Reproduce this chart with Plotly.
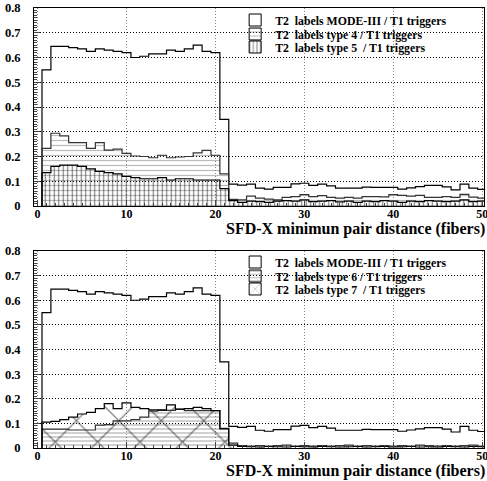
import numpy as np
import plotly.graph_objects as go
from plotly.subplots import make_subplots

# ---- data (bins = min pair distance in fibers, 1..50) ----
distance = list(range(1, 51))

mode3 = [0.55, 0.645, 0.645, 0.64, 0.635, 0.625, 0.635, 0.63, 0.625, 0.62,
         0.60, 0.605, 0.615, 0.615, 0.63, 0.625, 0.635, 0.65, 0.625, 0.62,
         0.35, 0.088, 0.084, 0.088, 0.072, 0.068, 0.075, 0.075, 0.089, 0.092,
         0.083, 0.088, 0.081, 0.072, 0.072, 0.072, 0.076, 0.075, 0.075, 0.075,
         0.068, 0.073, 0.078, 0.083, 0.083, 0.077, 0.065, 0.088, 0.072, 0.067]

type4 = [0.233, 0.294, 0.283, 0.256, 0.256, 0.233, 0.256, 0.226, 0.23, 0.213,
         0.202, 0.20, 0.195, 0.205, 0.195, 0.198, 0.20, 0.215, 0.225, 0.205,
         0.13, 0.027, 0.025, 0.04, 0.032, 0.028, 0.025, 0.035, 0.038, 0.046,
         0.038, 0.042, 0.035, 0.032, 0.035, 0.032, 0.038, 0.038, 0.037, 0.046,
         0.043, 0.04, 0.043, 0.035, 0.035, 0.038, 0.035, 0.047, 0.036, 0.032]

type5 = [0.135, 0.16, 0.165, 0.165, 0.16, 0.15, 0.14, 0.135, 0.13, 0.12,
         0.115, 0.11, 0.11, 0.115, 0.105, 0.11, 0.11, 0.105, 0.105, 0.105,
         0.07, 0.022, 0.015, 0.02, 0.018, 0.015, 0.02, 0.022, 0.02, 0.025,
         0.018, 0.02, 0.022, 0.017, 0.02, 0.015, 0.02, 0.018, 0.022, 0.02,
         0.015, 0.02, 0.018, 0.022, 0.02, 0.018, 0.02, 0.025, 0.018, 0.02]

type6 = [0.077, 0.077, 0.077, 0.073, 0.073, 0.073, 0.093, 0.095, 0.11, 0.11,
         0.115, 0.125, 0.15, 0.153, 0.153, 0.157, 0.152, 0.152, 0.152, 0.152,
         0.08, 0.02, 0.01, 0.008, 0.01, 0.008, 0.01, 0.012, 0.008, 0.01,
         0.008, 0.01, 0.008, 0.01, 0.012, 0.008, 0.01, 0.008, 0.01, 0.008,
         0.01, 0.008, 0.012, 0.01, 0.008, 0.01, 0.008, 0.01, 0.012, 0.008]

type7 = [0.105, 0.108, 0.115, 0.125, 0.138, 0.145, 0.16, 0.18, 0.16, 0.183,
         0.165, 0.16, 0.155, 0.155, 0.175, 0.158, 0.16, 0.165, 0.16, 0.152,
         0.078, 0.012, 0.006, 0.005, 0.004, 0.006, 0.005, 0.004, 0.006, 0.005,
         0.004, 0.006, 0.005, 0.004, 0.005, 0.006, 0.004, 0.005, 0.006, 0.004,
         0.005, 0.006, 0.004, 0.005, 0.004, 0.006, 0.005, 0.004, 0.006, 0.005]

x_ticks = [0, 10, 20, 30, 40, 50]
x_ticklabels = ["0", "10", "20", "30", "40", "50"]
y_ticks = [0, 0.1, 0.2, 0.3, 0.4, 0.5, 0.6, 0.7, 0.8]
y_ticklabels = ["0", "0.1", "0.2", "0.3", "0.4", "0.5", "0.6", "0.7", "0.8"]
x_title = "SFD-X minimun pair distance (fibers)"

FONT = "Liberation Serif"

top_series = [
    ("T2  labels MODE-III / T1 triggers", mode3, None, "black"),
    ("T2  labels type 4 / T1 triggers", type4, dict(shape="-", size=5, solidity=0.25, fgcolor="#777777"), "#333333"),
    ("T2  labels type 5  / T1 triggers", type5, dict(shape="|", size=4.5, solidity=0.25, fgcolor="black"), "black"),
]
bot_series = [
    ("T2  labels MODE-III / T1 triggers", mode3, None, "black"),
    ("T2  labels type 6 / T1 triggers", type6, dict(shape="-", size=4, solidity=0.25, fgcolor="#444444"), "#333333"),
    ("T2  labels type 7  / T1 triggers", type7, dict(shape="x", size=30, solidity=0.08, fgcolor="black"), "black"),
]

fig = make_subplots(rows=2, cols=1, vertical_spacing=0.1)

edges = np.arange(len(distance) + 1) + distance[0] - 0.5

# legend rows (paper y of each row centre)
legend_rows_top = [0.9727, 0.9409, 0.9114]
legend_rows_bot = [0.4227, 0.3909, 0.3614]
legend_font = dict(family="Liberation Serif", size=11.8, color="black", weight="bold")

legend_layout = {}
legend_counter = [0]


def add_panel(series, row, rows_y):
    for (name, vals, pat, lc), ly in zip(series, rows_y):
        vals = np.asarray(vals)
        if pat is not None:
            fig.add_trace(go.Bar(x=distance, y=vals, width=1.0,
                                 marker=dict(color="rgba(0,0,0,0)", line=dict(width=0), pattern=pat),
                                 showlegend=False, hoverinfo="skip"), row=row, col=1)
        xs = np.r_[edges[0], edges]
        ys = np.r_[0, vals, vals[-1]]
        fig.add_trace(go.Scatter(x=xs, y=ys, mode="lines", line=dict(color=lc, width=1.2, shape="hv"),
                                 showlegend=False, hoverinfo="skip"), row=row, col=1)
        # legend entry, one legend per row so rows can be spaced tightly
        legend_counter[0] += 1
        lname = "legend" if legend_counter[0] == 1 else f"legend{legend_counter[0]}"
        legend_layout[lname] = dict(x=0.447, y=ly, xanchor="left", yanchor="middle",
                                    bgcolor="rgba(0,0,0,0)", font=legend_font, itemwidth=30)
        mk = dict(color="rgba(0,0,0,0)", line=dict(width=1, color="black"))
        if pat is not None:
            mk["pattern"] = pat
        fig.add_trace(go.Bar(x=[None], y=[None], name=name, marker=mk, legend=lname, showlegend=True),
                      row=row, col=1)


add_panel(top_series, 1, legend_rows_top)
add_panel(bot_series, 2, legend_rows_bot)

fig.update_layout(
    width=487, height=481,
    margin=dict(l=34, r=3, t=8, b=33, autoexpand=False),
    paper_bgcolor="white", plot_bgcolor="white",
    barmode="overlay", bargap=0,
    font=dict(family=FONT, color="black", size=11),
    **legend_layout,
)

fig.update_yaxes(domain=[0.55, 1.0], row=1, col=1)
fig.update_yaxes(domain=[0.0, 0.4477], row=2, col=1)

for r in (1, 2):
    fig.update_xaxes(range=[-0.4, 50.2], tickvals=x_ticks, ticktext=x_ticklabels,
                     ticks="inside", ticklen=6, automargin=False, ticklabeloverflow="allow",
                     ticklabelstandoff=-3,
                     showline=True, linecolor="black", linewidth=1, mirror=True,
                     showgrid=True, gridcolor="#888888", griddash="1px,2px", gridwidth=1,
                     zeroline=False,
                     tickfont=dict(family=FONT, size=12, weight="bold"),
                     minor=dict(dtick=1, ticks="inside", ticklen=3, showgrid=False),
                     row=r, col=1)
    fig.update_yaxes(range=[0, 0.8], tickvals=y_ticks, ticktext=y_ticklabels,
                     ticks="inside", ticklen=6, automargin=False, ticklabeloverflow="allow",
                     showline=True, linecolor="black", linewidth=1, mirror=True,
                     showgrid=True, gridcolor="black", griddash="1px,2px", gridwidth=1,
                     zeroline=False, ticklabelstandoff=10,
                     tickfont=dict(family=FONT, size=12.5, weight="bold"),
                     minor=dict(dtick=0.01, ticks="inside", ticklen=3, showgrid=False),
                     row=r, col=1)

for yp in (0.55, 0.0):
    fig.add_annotation(text=x_title, xref="paper", yref="paper", x=1.0, y=yp,
                       xanchor="right", yanchor="top", xshift=3, yshift=-12, showarrow=False,
                       font=dict(family=FONT, size=16, weight="bold", color="black"))

fig.write_html("out.html", config={"displayModeBar": False},
               post_script="document.body.style.margin='0';")
